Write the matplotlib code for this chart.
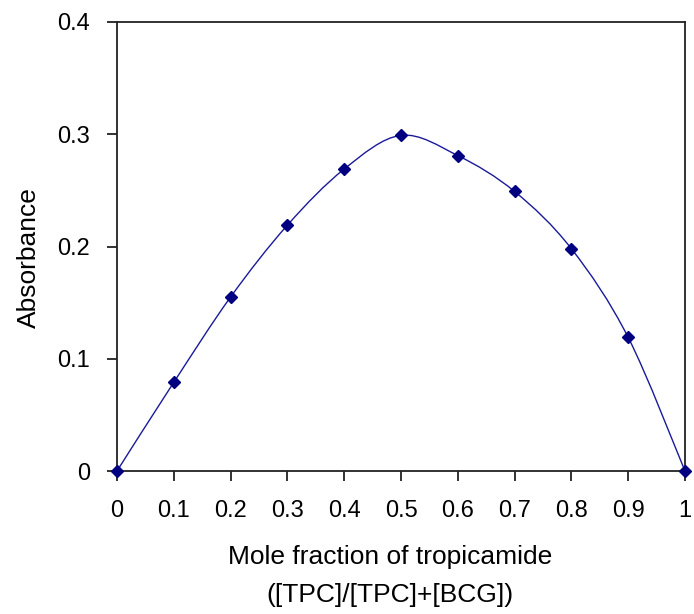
import matplotlib
matplotlib.use("Agg")
import matplotlib.pyplot as plt
import numpy as np
from matplotlib.path import Path
from matplotlib.patches import PathPatch

plt.rcParams['font.family'] = ['Liberation Sans', 'DejaVu Sans']

mole_fraction = [0.0, 0.1, 0.2, 0.3, 0.4, 0.5, 0.6, 0.7, 0.8, 0.9, 1.0]
absorbance = [0.0, 0.079, 0.155, 0.219, 0.269, 0.299, 0.281, 0.249, 0.198, 0.119, 0.0]
x_ticks = [0, 0.1, 0.2, 0.3, 0.4, 0.5, 0.6, 0.7, 0.8, 0.9, 1]
x_tick_labels = ['0', '0.1', '0.2', '0.3', '0.4', '0.5', '0.6', '0.7', '0.8', '0.9', '1']
y_ticks = [0, 0.1, 0.2, 0.3, 0.4]
y_tick_labels = ['0', '0.1', '0.2', '0.3', '0.4']

fig = plt.figure(figsize=(6.94, 6.14), dpi=100)
ax = fig.add_axes([117/694, 1-471/614, (685-117)/694, (471-22)/614])

# smooth line (Catmull-Rom as cubic Bezier), in data coordinates
x = np.array(mole_fraction); y = np.array(absorbance)
verts = [(x[0], y[0])]
codes = [Path.MOVETO]
n = len(x)
for i in range(n - 1):
    p0 = np.array([x[max(i-1, 0)], y[max(i-1, 0)]])
    p1 = np.array([x[i], y[i]])
    p2 = np.array([x[i+1], y[i+1]])
    p3 = np.array([x[min(i+2, n-1)], y[min(i+2, n-1)]])
    c1 = p1 + (p2 - p0) / 6.0
    c2 = p2 - (p3 - p1) / 6.0
    verts += [tuple(c1), tuple(c2), tuple(p2)]
    codes += [Path.CURVE4] * 3
ax.add_patch(PathPatch(Path(verts, codes), facecolor='none', edgecolor='#1a1a9a', lw=1.0, zorder=2))
ax.plot(mole_fraction, absorbance, linestyle='none', marker='D', markersize=6,
        color='#000080', zorder=3, clip_on=False)

ax.set_xlim(0, 1)
ax.set_ylim(0, 0.4)
ax.set_xticks(x_ticks)
ax.set_xticklabels(x_tick_labels)
ax.set_yticks(y_ticks)
ax.set_yticklabels(y_tick_labels)
for s in ax.spines.values():
    s.set_linewidth(1.3)
    s.set_color('#222222')
ax.tick_params(direction='out', length=7.2, width=1.3, color='#222222', labelsize=17)
ax.tick_params(axis='x', pad=14)
ax.tick_params(axis='y', pad=12)
ax.set_xlabel('Mole fraction of tropicamide\n([TPC]/[TPC]+[BCG])', fontsize=19, linespacing=1.73)
ax.xaxis.set_label_coords((390-117)/568, (471-545)/449)
ax.set_ylabel('Absorbance', fontsize=19)
ax.yaxis.set_label_coords((41-117)/568, (471-258)/449)

fig.savefig('out.png', dpi=100)
